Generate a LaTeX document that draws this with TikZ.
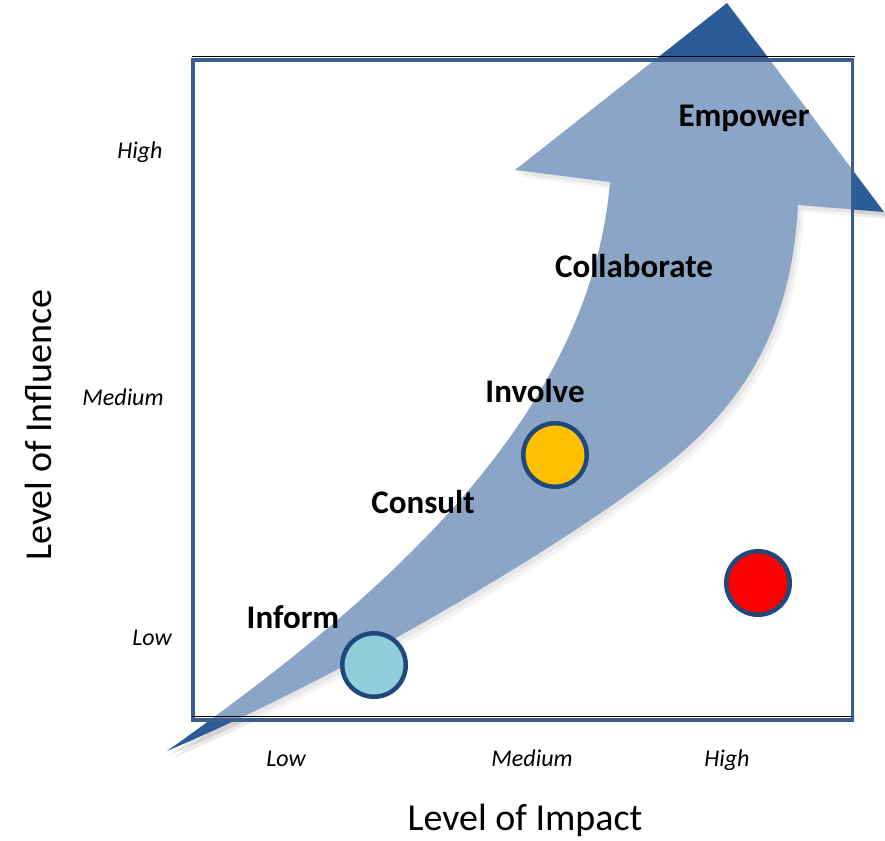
\documentclass[tikz,border=0pt]{standalone}
\usepackage{fontspec}
\setmainfont{Carlito}
\definecolor{arrowblue}{HTML}{2B5C97}
\definecolor{boxblue}{HTML}{3A5F8F}
\definecolor{ringblue}{HTML}{1F497D}
\definecolor{cinform}{HTML}{92CDDC}
\definecolor{cinvolve}{HTML}{FFC000}
\definecolor{cother}{HTML}{FF0000}
\def\arrowpath{(167,751) .. controls (380,600) and (590,420) .. (610,182) -- (515,170) -- (727,3) -- (884,212) -- (798,205) .. controls (792,320) and (750,390) .. (690,445) .. controls (620,510) and (380,660) .. (167,751) -- cycle}
\begin{document}
\begin{tikzpicture}[x=1pt,y=-1pt,
  stagelabel/.style={font=\fontsize{33}{39}\selectfont\bfseries, inner sep=0pt, anchor=base},
  ticklabel/.style={font=\fontsize{24}{28}\selectfont\itshape, inner sep=0pt, anchor=base},
  axislabel/.style={font=\fontsize{38}{45}\selectfont, inner sep=0pt},
  dot/.style={circle, draw=ringblue, line width=4.5pt, minimum size=63.5pt, inner sep=0pt}]
\useasboundingbox (0,0) rectangle (885,840);
\fill[white] (0,0) rectangle (885,840);
% arrow shadow
\begin{scope}[shift={(3,4)}]
  \fill[black, opacity=0.10] \arrowpath;
\end{scope}
\begin{scope}[shift={(6,7)}]
  \fill[black, opacity=0.08] \arrowpath;
\end{scope}
% arrow
\fill[arrowblue] \arrowpath;
% box
\fill[white, fill opacity=0.45] (193,60) rectangle (852.5,720);
\draw[boxblue, line width=3.5pt] (193,60) rectangle (852.5,720);
\draw[black, line width=1.7pt] (192,56.5) -- (855,56.5);
\draw[black, line width=1.7pt] (192,716.5) -- (852,716.5);
% circles
\node[dot, fill=cinform] (inform) at (374,665) {};
\node[dot, fill=cinvolve] (involve) at (555,455) {};
\node[dot, fill=cother] (other) at (758,583) {};
% stage labels
\node[stagelabel] (lempower) at (744,126) {Empower};
\node[stagelabel] (lcollab) at (634,277) {Collaborate};
\node[stagelabel] (linvolve) at (535,402) {Involve};
\node[stagelabel] (lconsult) at (423,513) {Consult};
\node[stagelabel] (linform) at (293,628) {Inform};
% ticks
\node[ticklabel] (ylow) at (152,645) {Low};
\node[ticklabel] (ymed) at (123,405) {Medium};
\node[ticklabel] (yhigh) at (140,158) {High};
\node[ticklabel] (xlow) at (286,766) {Low};
\node[ticklabel] (xmed) at (532,766) {Medium};
\node[ticklabel] (xhigh) at (727,766) {High};
% axis titles
\node[axislabel, anchor=base] (ximpact) at (525,830) {Level of Impact};
\node[axislabel, rotate=90] (yinfl) at (38,425) {Level of Influence};
\end{tikzpicture}
\end{document}
